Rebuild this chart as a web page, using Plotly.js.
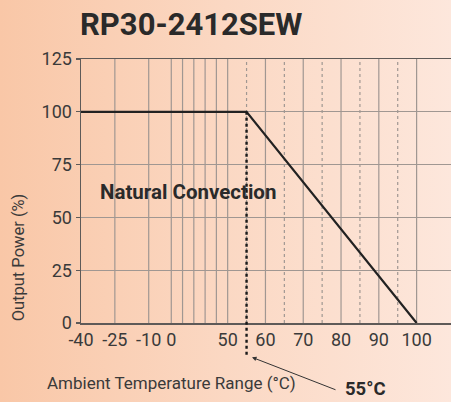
<!DOCTYPE html>
<html>
<head>
<meta charset="utf-8">
<script src="https://cdn.plot.ly/plotly-3.0.1.min.js"></script>
<style>
html,body{margin:0;padding:0;width:451px;height:402px;overflow:hidden;
background:linear-gradient(to right,#f9c7a7 0%,#fbd8c3 50%,#fde7dc 100%);}
#chart{width:451px;height:402px;}
</style>
</head>
<body>
<div id="chart"></div>
<script>
// ---- data ----
const curveTemps = [-40, 55, 100];
const curvePower = [100, 100, 0];
const xTickTemps = [-40, -25, -10, 0, 50, 60, 70, 80, 90, 100];
const xTickLabels = ['-40', '-25', '-10', '0', '50', '60', '70', '80', '90', '100'];
const solidGridTemps = [-25, -10, 0, 10, 20, 30, 40, 50, 60, 70, 80, 90, 100];
const dottedGridTemps = [55, 65, 75, 85, 95];
const yTicks = [0, 25, 50, 75, 100, 125];
const deratingTemp = 55;
const title = 'RP30-2412SEW';

// ---- piecewise axis scale of the original chart ----
const scaleTemps = [-40, 0, 50, 100];
const scaleUnits = [0, 90.3, 146.7, 335.7];
const xEndTemp = 109.1;
function mapT(t){
  for (let i = 0; i < scaleTemps.length - 1; i++){
    if (t <= scaleTemps[i+1] || i === scaleTemps.length - 2){
      const a = scaleTemps[i], b = scaleTemps[i+1];
      return scaleUnits[i] + (t - a) / (b - a) * (scaleUnits[i+1] - scaleUnits[i]);
    }
  }
}
const xMin = mapT(-40), xMax = mapT(xEndTemp);
const toPaper = t => (mapT(t) - xMin) / (xMax - xMin);

const gridColor = '#a09792';
const shapes = [];
solidGridTemps.forEach(t => shapes.push({type:'line', xref:'x', yref:'y', x0:mapT(t), x1:mapT(t), y0:0, y1:125,
  layer:'below', line:{color:gridColor, width:1.2}}));
dottedGridTemps.forEach(t => shapes.push({type:'line', xref:'x', yref:'y', x0:mapT(t), x1:mapT(t), y0:0, y1:125,
  layer:'below', line:{color:gridColor, width:1.2, dash:'dot'}}));
// black dotted derating marker
shapes.push({type:'line', xref:'paper', yref:'paper', x0:toPaper(deratingTemp), x1:toPaper(deratingTemp),
  y0:100/125, y1:-0.13, line:{color:'#1a1a1a', width:2.4, dash:'dot'}});

const font = 'Roboto, "Noto Sans", sans-serif';

const trace = {
  x: curveTemps.map(mapT), y: curvePower, type:'scatter', mode:'lines',
  line:{color:'#222222', width:2.2}, hoverinfo:'skip', cliponaxis:false
};

const layout = {
  width:451, height:402,
  margin:{l:81, r:0, t:59, b:79.3, pad:0},
  paper_bgcolor:'rgba(0,0,0,0)', plot_bgcolor:'rgba(0,0,0,0)',
  showlegend:false,
  xaxis:{range:[xMin, xMax], tickvals:xTickTemps.map(mapT), ticktext:xTickLabels,
    showgrid:false, zeroline:false, showline:true, mirror:true, linecolor:'#5e5a58', linewidth:1.5,
    ticks:'', tickfont:{family:font, size:18, color:'#3a3a3a'}, fixedrange:true},
  yaxis:{range:[0,125], tickvals:yTicks, showgrid:true, gridcolor:gridColor, gridwidth:1.2,
    zeroline:false, showline:true, linecolor:'#5e5a58', linewidth:1.5,
    ticks:'outside', ticklen:4, tickcolor:'#5e5a58', tickwidth:1.2,
    tickfont:{family:font, size:18, color:'#3a3a3a'}, fixedrange:true},
  shapes: shapes,
  annotations:[
    {text:title, xref:'paper', yref:'paper', x:-0.008, y:1.13, xanchor:'left', yanchor:'middle',
      showarrow:false, font:{family:font, size:31, color:'#2a2a2a', weight:'bold'}},
    {text:'Natural Convection', xref:'paper', yref:'paper', x:0.2905, y:0.4956, xanchor:'center', yanchor:'middle',
      showarrow:false, font:{family:font, size:20.5, color:'#2a2a2a', weight:'bold'}},
    {text:'Ambient Temperature Range (°C)', xref:'paper', yref:'paper', x:-0.097, y:-0.229, xanchor:'left', yanchor:'middle',
      showarrow:false, font:{family:font, size:17, color:'#3a3a3a'}},
    {text:'Output Power (%)', xref:'paper', yref:'paper', x:-0.170, y:0.249, xanchor:'center', yanchor:'middle',
      textangle:-90, showarrow:false, font:{family:font, size:16.5, color:'#3a3a3a'}},
    {text:deratingTemp + '°C', xref:'paper', yref:'paper', x:0.7676, y:-0.297, xanchor:'center', yanchor:'bottom',
      borderpad:0, showarrow:false, font:{family:font, size:18.5, color:'#2a2a2a', weight:'bold'}},
    {text:' ', xref:'paper', yref:'paper', x:0.4622, y:-0.130, ax:85, ay:33, showarrow:true,
      arrowhead:2, arrowsize:0.9, arrowwidth:1, arrowcolor:'#333', standoff:0, font:{size:1}}
  ]
};

Plotly.newPlot('chart', [trace], layout, {displayModeBar:false, staticPlot:true});
</script>
</body>
</html>
